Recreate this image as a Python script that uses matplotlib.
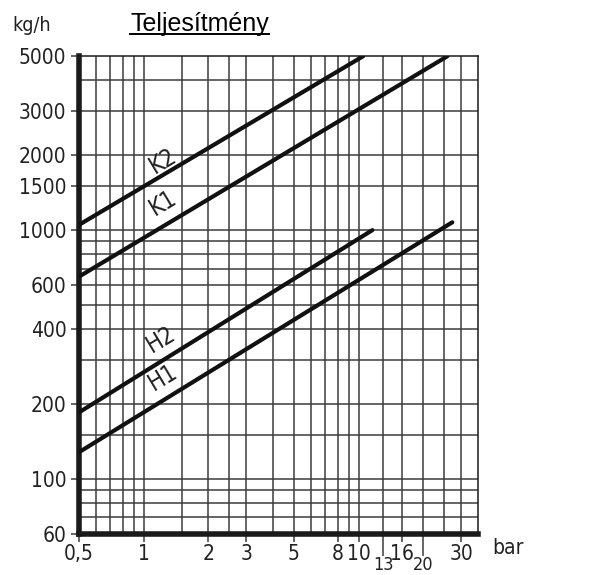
import numpy as np
import matplotlib
matplotlib.use("Agg")
import matplotlib.pyplot as plt
from matplotlib.lines import Line2D
from matplotlib.ticker import NullLocator
from matplotlib import font_manager

# pressure (bar) / flow (kg/h) end points of the four lines
series_names = ["K2", "K1", "H2", "H1"]
series_x = [[0.5, 10.5], [0.5, 25.9], [0.5, 11.6], [0.5, 27.3]]
series_y = [[1050, 5000], [650, 5000], [185, 1000], [128, 1075]]
label_x = [1.23, 1.23, 1.2, 1.23]
label_y = [1890, 1290, 364, 256]

x_grid = [0.6, 0.7, 0.8, 0.9, 1, 1.5, 2, 2.5, 3, 4, 5, 6, 7, 8, 9, 10,
          13, 16, 20, 25, 30]
y_grid = [70, 80, 90, 100, 150, 200, 300, 400, 500, 600, 700, 800, 900,
          1000, 1500, 2000, 3000, 4000]

x_ticks = [0.5, 1, 2, 3, 5, 8, 10, 16, 30]
x_ticklabels = ["0,5", "1", "2", "3", "5", "8", "10", "16", "30"]
x_low_ticks = [13, 20]
y_ticks = [60, 100, 200, 400, 600, 1000, 1500, 2000, 3000, 5000]

names = {f.name for f in font_manager.fontManager.ttflist}
cond = "DejaVu Sans Condensed" if "DejaVu Sans Condensed" in names else "DejaVu Sans"
tfont = dict(family=cond, stretch="condensed")

fig = plt.figure(figsize=(6.02, 5.75), dpi=100)
ax = fig.add_axes([0.1312, 0.0712, 0.663, 0.831])
ax.set_xscale("log")
ax.set_yscale("log")
ax.set_xlim(0.5, 36)
ax.set_ylim(60, 5000)

gc = "#3c3c3c"
for v in x_grid:
    ax.axvline(v, color=gc, lw=1.1, zorder=1)
for v in y_grid:
    ax.axhline(v, color=gc, lw=1.1, zorder=1)

for xs, ys in zip(series_x, series_y):
    ax.plot(xs, ys, color="#111111", lw=3.0, solid_capstyle="round", zorder=3)

for name, lx, ly in zip(series_names, label_x, label_y):
    ax.text(lx, ly, name, fontsize=17, color="#222222", rotation=31,
            ha="center", va="center", zorder=4, **tfont)

ax.spines["left"].set_linewidth(4)
ax.spines["bottom"].set_linewidth(4)
ax.spines["top"].set_linewidth(1.1)
ax.spines["right"].set_linewidth(1.1)
for s in ax.spines.values():
    s.set_color("#1a1a1a")

ax.xaxis.set_minor_locator(NullLocator())
ax.yaxis.set_minor_locator(NullLocator())
ax.set_xticks(x_ticks, labels=x_ticklabels)
ax.set_xticks(x_low_ticks, labels=[str(v) for v in x_low_ticks], minor=True)
ax.set_yticks(y_ticks, labels=[str(v) for v in y_ticks])
ax.tick_params(axis="both", which="major", length=6, width=1.1,
               color=gc, labelsize=15, labelcolor="#222222")
ax.tick_params(axis="x", which="major", pad=1.5)
ax.tick_params(axis="y", which="major", pad=3)
ax.tick_params(axis="x", which="minor", length=16, width=1.1, color=gc,
               labelsize=13, labelcolor="#222222", pad=0)
for lab in ax.get_xticklabels(which="both") + ax.get_yticklabels():
    lab.set_fontfamily(cond)
    lab.set_fontstretch("condensed")

fig.text(0.053, 0.955, "kg/h", fontsize=14, color="#222222",
         ha="center", va="center", **tfont)
fig.text(0.843, 0.047, "bar", fontsize=15, color="#222222",
         ha="center", va="center", **tfont)

title = fig.text(0.332, 0.958, "Teljesítmény", fontsize=18,
                 family="Liberation Sans", ha="center", va="center")
fig.canvas.draw()
bb = title.get_window_extent()
fw, fh = fig.bbox.width, fig.bbox.height
uy = (bb.y0 + 2.5) / fh
fig.add_artist(Line2D([bb.x0 / fw, bb.x1 / fw], [uy, uy], color="black", lw=1.4))

fig.savefig("out.png", dpi=100)
